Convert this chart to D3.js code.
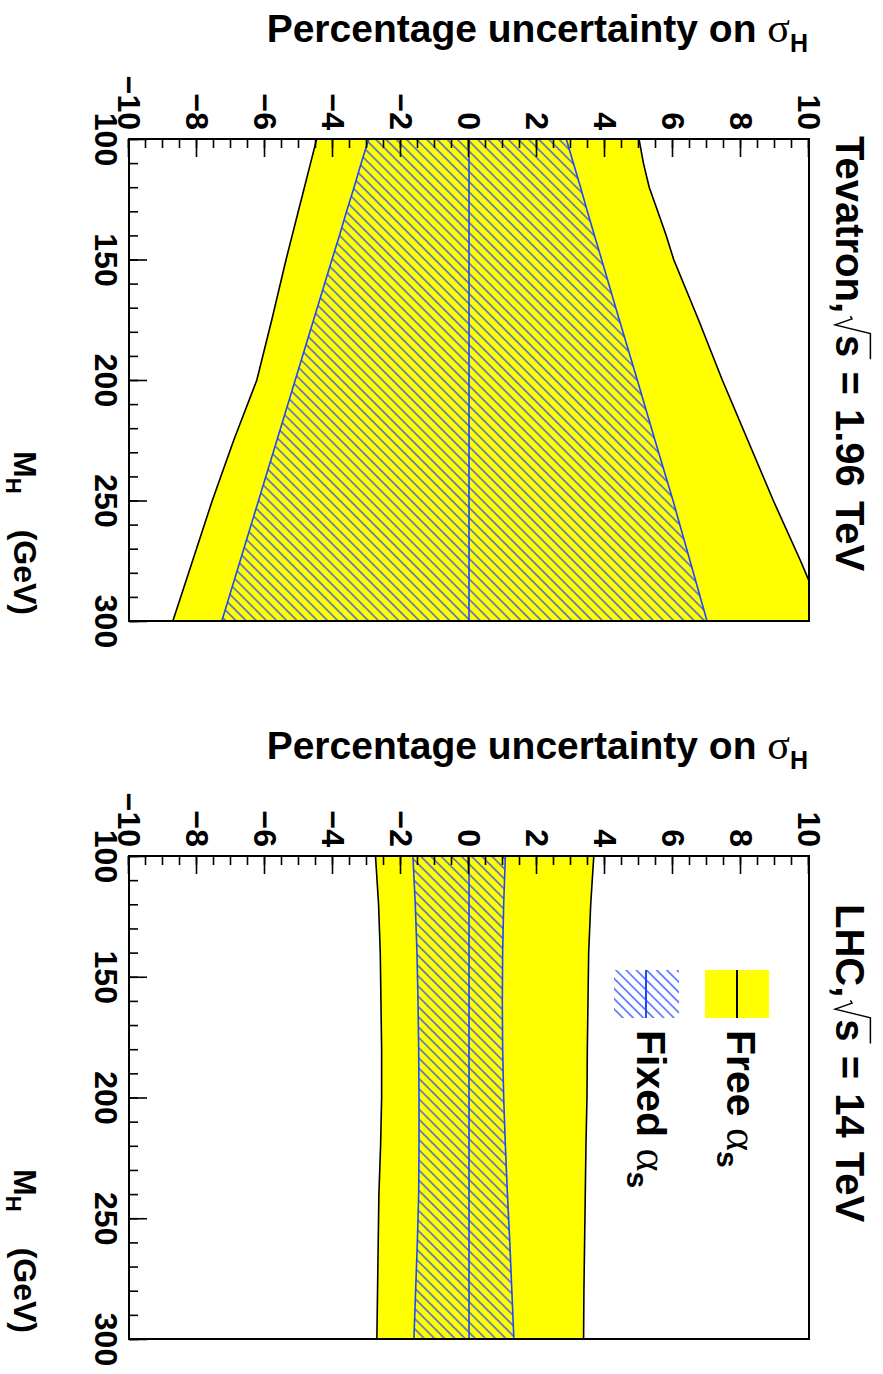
<!DOCTYPE html>
<html><head><meta charset="utf-8">
<script src="https://cdn.jsdelivr.net/npm/d3@7"></script>
<style>body{margin:0;background:#fff}</style>
</head><body><svg id="c" width="883" height="1374"></svg>
<script>
// ---------------- data ----------------
const mhMajor = [100,150,200,250,300];
const mhMinor = d3.range(100,301,10);
const pctMajor = [-10,-8,-6,-4,-2,0,2,4,6,8,10];
const pctMinor = d3.range(-10,10.01,0.5);

// Tevatron, sqrt(s)=1.96 TeV
const tevMH       = [100,110,120,130,140,150,175,200,225,250,275,300];
const tevOuterUp  = [5.0,5.13,5.3,5.55,5.8,6.02,6.75,7.45,8.2,8.95,9.75,10.5];
const tevOuterLo  = [-4.48,-4.66,-4.84,-5.02,-5.2,-5.38,-5.8,-6.24,-6.92,-7.55,-8.13,-8.71];
const tevHatchUp  = [2.86,3.07,3.28,3.48,3.69,3.9,4.42,4.95,5.47,6.0,6.5,7.0];
const tevHatchLo  = [-2.95,-3.17,-3.38,-3.6,-3.81,-4.03,-4.57,-5.11,-5.65,-6.19,-6.73,-7.27];

// LHC, sqrt(s)=14 TeV
const lhcMH       = [100,120,140,160,180,200,220,240,260,280,300];
const lhcOuterUp  = [3.67,3.58,3.52,3.5,3.48,3.47,3.44,3.42,3.4,3.38,3.37];
const lhcOuterLo  = [-2.75,-2.66,-2.61,-2.59,-2.57,-2.57,-2.6,-2.65,-2.67,-2.69,-2.71];
const lhcHatchUp  = [1.07,1.02,0.99,0.98,0.99,1.02,1.07,1.13,1.2,1.26,1.32];
const lhcHatchLo  = [-1.65,-1.58,-1.53,-1.5,-1.48,-1.47,-1.47,-1.48,-1.52,-1.57,-1.62];

const legendLabels = ["Free ", "Fixed "];
// --------------------------------------

const YEL = "#ffff00", BLUE = "#1e46ff";
const SANS = "'Liberation Sans', Arial, Helvetica, sans-serif";
const SERIF = "'Liberation Serif', 'Times New Roman', serif";

const svg = d3.select('#c');
const defs = svg.append('defs');
const pat = defs.append('pattern').attr('id','hatch').attr('patternUnits','userSpaceOnUse')
  .attr('width',7.2).attr('height',7.2).attr('patternTransform','rotate(-45)');
pat.append('line').attr('x1',-1).attr('y1',3.6).attr('x2',8.2).attr('y2',3.6)
  .attr('stroke','#2048ff').attr('stroke-width',1.25);

// landscape group, rotated 90deg clockwise onto the portrait page
const G = svg.append('g').attr('transform','translate(883,0) rotate(90)');
const V_TOP = 74, V_BOT = 754;
const y = d3.scaleLinear().domain([-10,10]).range([V_BOT, V_TOP]);
const fmtPct = d => d < 0 ? '\u2212' + Math.abs(d) : String(d);
const TICKFS = 32;

function panel(cfg){
  const x = d3.scaleLinear().domain([100,300]).range([cfg.u0, cfg.u1]);
  const g = G.append('g');
  const cid = 'clip' + cfg.id;
  defs.append('clipPath').attr('id',cid).append('rect')
    .attr('x',cfg.u0).attr('y',V_TOP).attr('width',cfg.u1-cfg.u0).attr('height',V_BOT-V_TOP);
  const pg = g.append('g').attr('clip-path',`url(#${cid})`);
  const rows = cfg.mh.map((m,i)=>({m, ou:cfg.ou[i], ol:cfg.ol[i], hu:cfg.hu[i], hl:cfg.hl[i]}));
  const areaO = d3.area().x(d=>x(d.m)).y0(d=>y(d.ol)).y1(d=>y(d.ou));
  const areaH = d3.area().x(d=>x(d.m)).y0(d=>y(d.hl)).y1(d=>y(d.hu));
  pg.append('path').datum(rows).attr('d',areaO).attr('fill',YEL);
  pg.append('path').datum(rows).attr('d',areaH).attr('fill','url(#hatch)');
  const line = acc => d3.line().x(d=>x(d.m)).y(d=>y(acc(d)));
  [d=>d.ou, d=>d.ol].forEach(a=>pg.append('path').datum(rows).attr('d',line(a))
     .attr('fill','none').attr('stroke','#000').attr('stroke-width',1.6));
  [d=>d.hu, d=>d.hl, d=>0].forEach(a=>pg.append('path').datum(rows).attr('d',line(a))
     .attr('fill','none').attr('stroke',BLUE).attr('stroke-width',1.6));

  // MH axis (bottom in landscape)
  const ax1 = g.append('g').attr('transform',`translate(0,${V_BOT})`)
    .call(d3.axisBottom(x).tickValues(mhMinor).tickSize(-9).tickFormat(''));
  const ax2 = g.append('g').attr('transform',`translate(0,${V_BOT})`)
    .call(d3.axisBottom(x).tickValues(mhMajor).tickSize(-18).tickPadding(10).tickFormat(d3.format('d')));
  // percentage axis (left in landscape)
  const ay1 = g.append('g').attr('transform',`translate(${cfg.u0},0)`)
    .call(d3.axisLeft(y).tickValues(pctMinor).tickSize(-9).tickFormat(''));
  const ay2 = g.append('g').attr('transform',`translate(${cfg.u0},0)`)
    .call(d3.axisLeft(y).tickValues(pctMajor).tickSize(-18).tickPadding(9).tickFormat(fmtPct));
  [ax1,ax2,ay1,ay2].forEach(a=>{
    a.select('.domain').remove();
    a.selectAll('line').attr('stroke','#000').attr('stroke-width',1.6);
    a.selectAll('text').attr('font-family',SANS).attr('font-weight','bold').attr('font-size',TICKFS).attr('fill','#000');
  });
  ax2.selectAll('text').attr('dy','0.74em');
  // frame
  g.append('rect').attr('x',cfg.u0).attr('y',V_TOP).attr('width',cfg.u1-cfg.u0).attr('height',V_BOT-V_TOP)
    .attr('fill','none').attr('stroke','#000').attr('stroke-width',2);

  // x title
  const xt = g.append('text').attr('x',cfg.u1-6).attr('y',869).attr('text-anchor','end')
    .attr('font-family',SANS).attr('font-weight','bold').attr('font-size',32);
  xt.append('tspan').text('M');
  xt.append('tspan').attr('font-size',22).attr('dy',8).text('H');
  xt.append('tspan').attr('dy',-8).attr('dx',36).text('(GeV)');

  // panel title with sqrt
  const fs = 40;
  const tt = g.append('text').attr('x',cfg.titleU).attr('y',47)
    .attr('font-family',SANS).attr('font-weight','bold').attr('font-size',fs).attr('word-spacing',3);
  tt.append('tspan').text(cfg.titleA);
  tt.append('tspan').attr('dx',0.55*fs).text('s = ' + cfg.titleB);
  const node = tt.node();
  const iS = cfg.titleA.length;
  const eS = node.getExtentOfChar(iS);
  const xs = eS.x, xe = eS.x + eS.width;
  const base = 47;
  const a0 = xs - 0.55*fs + 3;
  g.append('path').attr('fill','none').attr('stroke','#000').attr('stroke-width',1.5)
    .attr('d', `M${a0},${base-0.36*fs} L${a0+0.07*fs},${base-0.40*fs} L${a0+0.22*fs},${base+0.02*fs} L${xs-0.04*fs},${base-0.86*fs} L${xe+2},${base-0.86*fs}`);
  return {x, g};
}

panel({id:'tev', u0:139, u1:621, mh:tevMH, ou:tevOuterUp, ol:tevOuterLo, hu:tevHatchUp, hl:tevHatchLo,
       titleU:136, titleA:'Tevatron,', titleB:'1.96 TeV'});
const P2 = panel({id:'lhc', u0:856, u1:1339, mh:lhcMH, ou:lhcOuterUp, ol:lhcOuterLo, hu:lhcHatchUp, hl:lhcHatchLo,
       titleU:904, titleA:'LHC,', titleB:'14 TeV'});

// legend (in LHC panel)
const L = P2.g;
const legU0 = 970, legU1 = 1018;
L.append('rect').attr('x',legU0).attr('y',114).attr('width',legU1-legU0).attr('height',64).attr('fill',YEL);
L.append('line').attr('x1',legU0).attr('x2',legU1).attr('y1',146).attr('y2',146).attr('stroke','#000').attr('stroke-width',2);
L.append('rect').attr('x',legU0).attr('y',204).attr('width',legU1-legU0).attr('height',65).attr('fill','url(#hatch)');
L.append('line').attr('x1',legU0).attr('x2',legU1).attr('y1',237).attr('y2',237).attr('stroke',BLUE).attr('stroke-width',2);
[[156, legendLabels[0]],[246, legendLabels[1]]].forEach(([v,lab])=>{
  const t = L.append('text').attr('x',1030).attr('y',v).attr('font-family',SANS).attr('font-weight','bold').attr('font-size',41);
  t.append('tspan').text(lab);
  t.append('tspan').attr('font-family',SERIF).attr('font-weight','normal').attr('font-size',44).text('\u03b1');
  t.append('tspan').attr('font-size',30).attr('dy',10).text('s');
});

// y titles (horizontal on the page)
[42, 759].forEach(yy=>{
  const t = svg.append('text').attr('x',808).attr('y',yy).attr('text-anchor','end')
    .attr('font-family',SANS).attr('font-weight','bold').attr('font-size',39);
  t.append('tspan').text('Percentage uncertainty on ');
  t.append('tspan').attr('font-family',SERIF).attr('font-weight','normal').attr('font-size',42).text('\u03c3');
  t.append('tspan').attr('font-size',25).attr('dy',10).text('H');
});
</script></body></html>
